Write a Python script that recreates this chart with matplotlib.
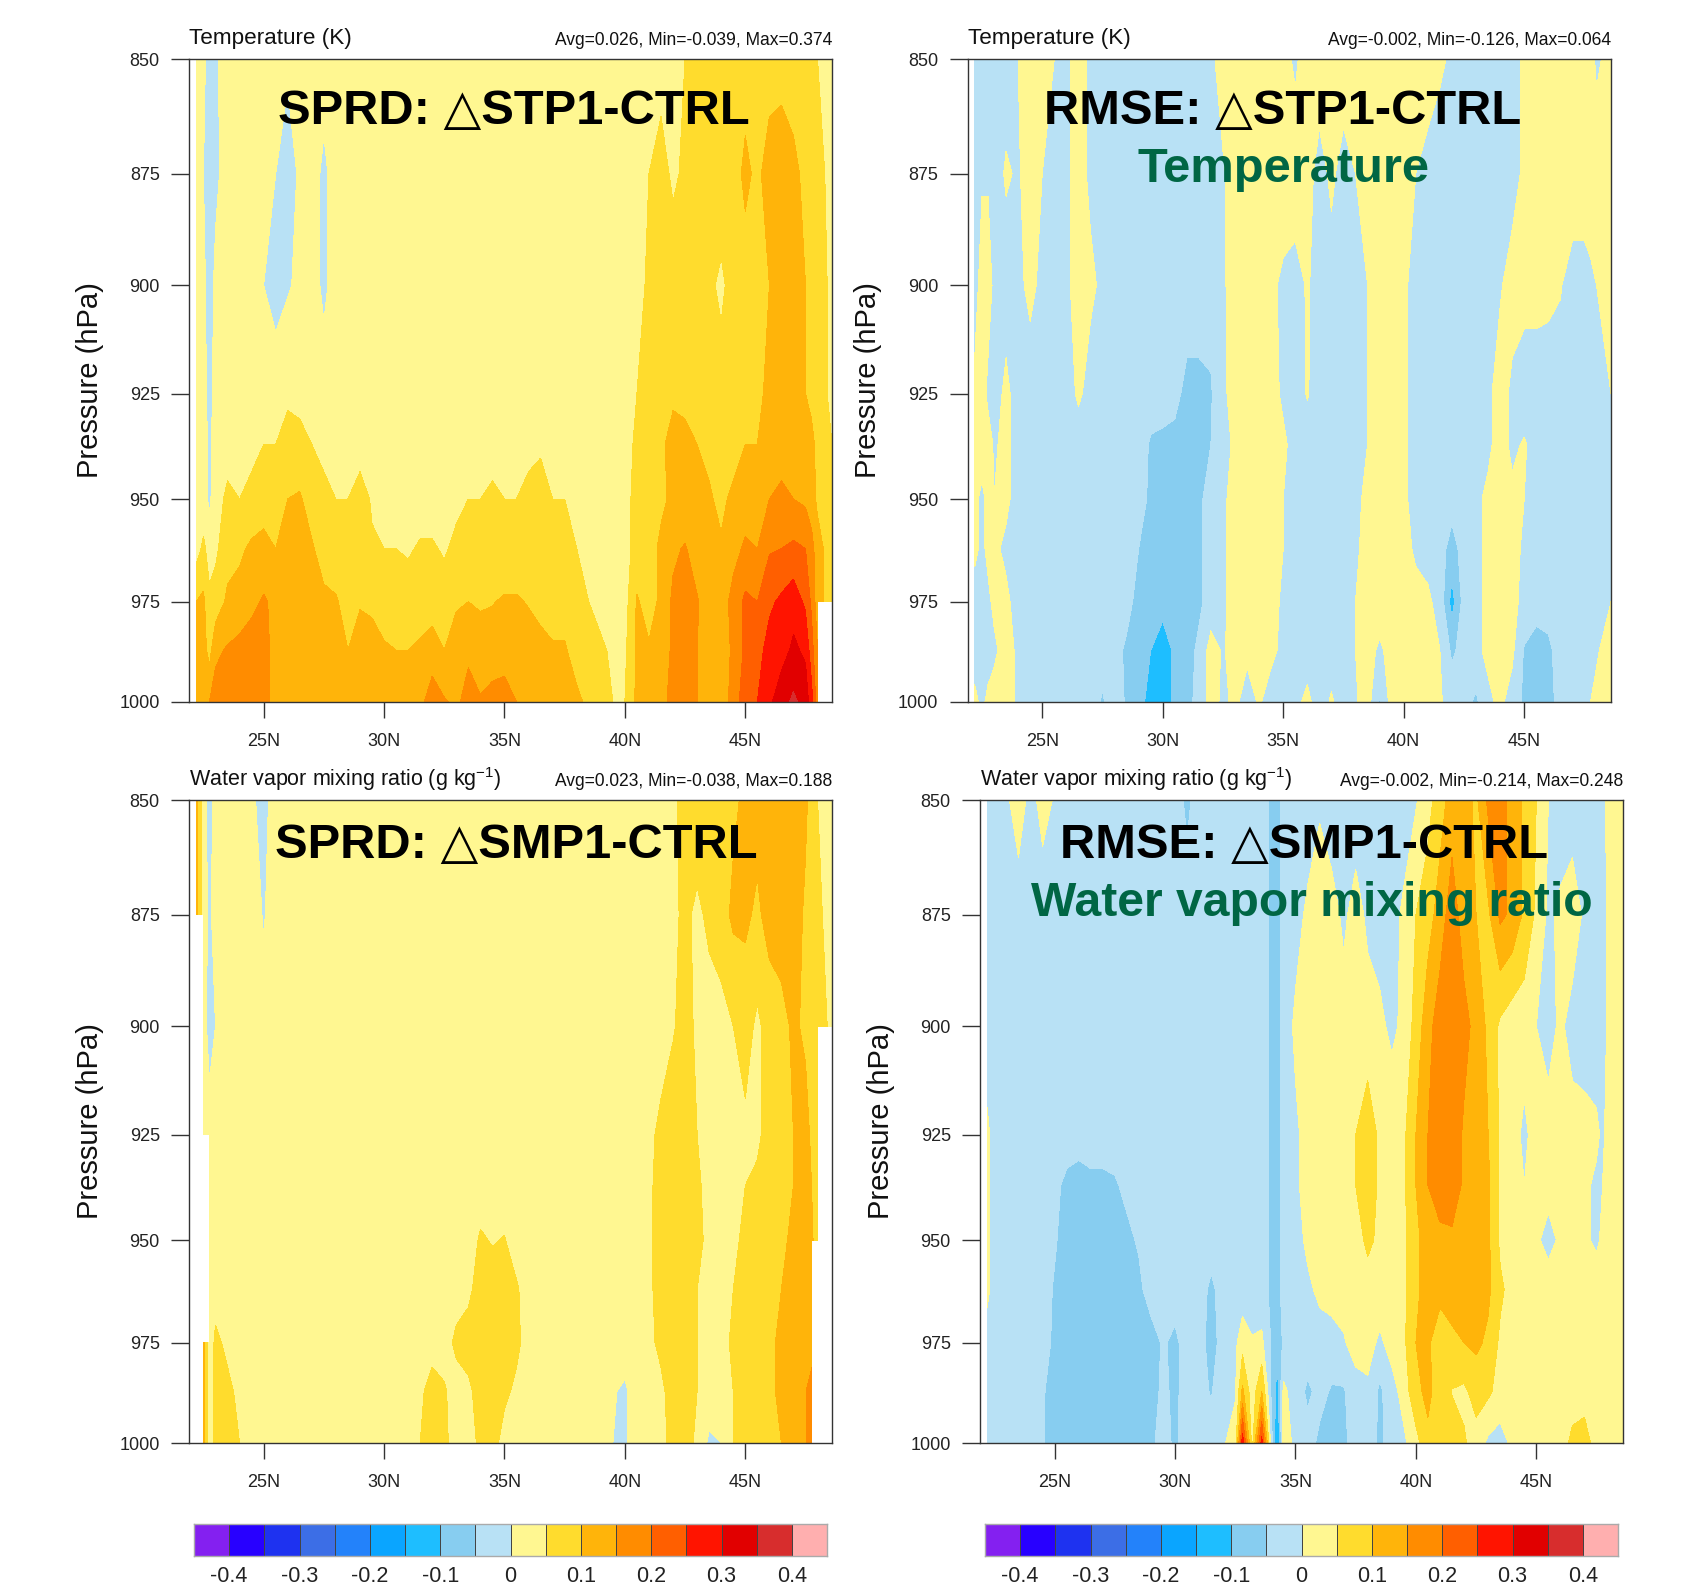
import numpy as np
import matplotlib
matplotlib.use('Agg')
import matplotlib.pyplot as plt
from matplotlib.colors import ListedColormap

plt.rcParams['font.family'] = ['Liberation Sans', 'DejaVu Sans']
plt.rcParams['mathtext.default'] = 'regular'

nan = float('nan')
W, H = 1691, 1585

# 등압면 (hPa), 위도
PRES = [850, 875, 900, 925, 937, 950, 962, 975, 987, 1000]
LATS = [22.2, 22.5, 22.75, 23, 23.5, 24, 24.5,
        25, 25.5, 26, 26.5, 27, 27.5, 28, 28.5, 29, 29.5,
        30, 30.5, 31, 31.5, 32, 32.5, 33, 33.5, 34, 34.5,
        35, 35.5, 36, 36.5, 37, 37.5, 38, 38.5, 39, 39.5,
        40, 40.5, 41, 41.5, 42, 42.5, 43, 43.5, 44, 44.5,
        45, 45.5, 46, 46.5, 47, 47.5, 47.75, 48, 48.6]
LATS_D = [22.2, 22.5, 22.75, 23, 23.5, 24, 24.5,
          25, 25.5, 26, 26.5, 27, 27.5, 28, 28.5, 29, 29.5,
          30, 30.5, 31, 31.5, 32, 32.5, 32.8, 33.2, 33.6, 34, 34.25, 34.5,
          35, 35.5, 36, 36.5, 37, 37.5, 38, 38.5, 39, 39.5,
          40, 40.5, 41, 41.5, 42, 42.5, 43, 43.5, 44, 44.5,
          45, 45.5, 46, 46.5, 47, 47.5, 47.75, 48, 48.6]

# 값은 0.01 단위
SPRD_T = [
 [2,1,-2,-1,3,3,3, 3,3,1,3,3,2,3,3,3,3, 3,3,3,3,3,3,3,3,3,3, 3,3,3,3,3,3,3,3,3,3, 3,3,3,3,4,5,7,7,8,8, 8,8,8,8,8,7,6,5,3],
 [2,0,-2,-1,2,3,3, 3,0,-3,1,2,-1,2,3,3,3, 3,3,3,3,3,3,3,3,3,3, 3,3,3,3,3,3,3,3,3,3, 3,4,5,7,4,6,7,7,8,8, 11,9,12,13,11,9,8,7,3],
 [1,1,-2,1,3,3,3, 0,-3,-0.5,1,2,-1,2,3,3,3, 3,3,3,3,3,3,3,3,3,3, 3,3,3,3,3,3,3,3,3,3, 3,3,6,8,8,8,8,6,4,7, 8,9,10,12,12,10,9,7,4],
 [1,1,-1,1,3,3,3, 3,4,4,3,3,2,3,3,3,3, 3,3,3,3,3,3,3,3,3,3, 3,3,3,3,3,3,3,3,3,3, 3,5,7,8,9,9,9,8,7,7, 8,9,11,13,13,10,9,7,4],
 [2,2,-1,2,3,3,4, 5,5,7,7,5,4,4,3,3,3, 3,3,3,3,3,3,3,3,3,3, 3,3,4,4,3,3,3,3,3,3, 3,6,7,9,12,11,10,9,8,8, 10,10,12,13,14,13,11,9,5],
 [2,2,-1,3,6,5,6, 7,7,10,10.5,8,6,5,5,7,4.5, 4,4,3,3,3,3,4,5,5,6, 5,5,6,8,5,5,3.5,3,3,3, 3,7,8,9,11,11,11,10.5,9,11, 12,13,15,16,15,14,12,9,6],
 [3,6,3,4,8,9,11, 12,10,12,12,10.5,8,7,5.5,6,5.5, 5,5,4.5,5.5,5.5,4.5,6,7,7,7, 7,7,7,8,7,7,5,4,3.5,3, 3,7,8,11,14,15.5,12,11.5,10.5,13, 16,15,19.5,20,21,20,17,12,7],
 [10,11,6,7,11,12,14, 15.5,14,14,14,12,11,10.5,8,9.8,9.5, 8,8,7,7,7,7,9.5,10,9.5,9.8, 10.5,10.5,9.7,8,8,8,7,5,4,3, 3,10.5,8,11,16,17,15.5,12,12,17, 21,20,24,26,28,24,19,12,7],
 [11,12,8,14,15.5,16.5,17, 18,12,12,12,11.5,11,10.8,10,11,11, 10.5,10,10,11,13,10,12,14,12,12, 13,13,12,12,10.5,10.5,8,7,5.5,4.5, 4,11,10.5,12,16,17,15,11,12,16, 21,23,27,28,31,29,22,15,nan],
 [11,12,15,17,18,18,18, 18,12,12,12,12,12,12,11,11,11, 12,12,12,14,17,15.5,14,17,15.5,17, 17,15,12,12,11,11,11,9,7,5, 5,11,12,13,17,17,15,12,12,17, 23,25,29,33,36,33,27,17,nan],
]

RMSE_T = [
 [-3,-3,-3,-3,-2,0,2, 3,0,-1,2,-1,-3,-3,-3,-3,-3, -3,-3,-3,-3,-1,2,3,3,3,2, 2,-1,3,3,3,3,3,3,3,3, 3,3,3,1,-1,-3,-3,-3,-3,-2, 1,3,3,3,3,3,2,-1,2],
 [-3,-0.5,-0.5,-2,0.5,-0.5,2, 0,-2,-1,2,-1,-3,-3,-3,-3,-3, -3,-3,-3,-3,-3,-0.5,2,3,3,3, 3,3,2,-2,1,-2,0,3,3,3, 3,0,-2,-3,-3,-3,-3,-3,-3,-2, 1,3,3,3,3,3,3,3,3],
 [-2,2,2,-1,-2,-1,1, -1,-2,-1,2,1,-1,-3,-3,-3,-3, -3,-3,-3,-3,-3,-1,3,3,3,1, -1,-2,0.5,-2,-2,-2,-2,0,3,3, 1,-2,-3,-3,-3,-3,-3,-3,-0.5,2, 2,2,1.5,0.3,-2,-2,-1,0,2],
 [1,2,-1,-2,1,-2,-2, -3,-3,-3,1,-2,-3,-3,-3,-3,-3, -3,-4,-6,-6,-5.5,-1,2,3,3,2, -1,-2,0.3,-2,-2,-2,-2,0,3,3, 1,-2,-3,-3,-3,-3,-3,-1,2,-1, -3,-3,-3,-2,-2,-2,-2,-2,0],
 [1,2,2,-0.5,1,-2,-2, -3,-3,-3,-3,-3,-3,-3,-3,-3,-5.5, -6,-6,-7,-7,-5,-2,1,3,3,3, 1,-2,-2,-2,-2,-2,-2,0,3,3, 1,-2,-3,-3,-3,-3,-3,-1,2,-1, 0.5,-2,-2,-2,-2,-2,-2,-2,-1],
 [1,-1,1,0,1,-2,-2, -3,-3,-3,-3,-3,-3,-3,-3,-3,-6, -7,-7,-7,-6,-3,-1,2,3,3,2, 0,-2,-2,-2,-2,-2,-1,1,3,3, 1,-2,-3,-3,-3,-3,-1,1,2,1, 0,-3,-3,-3,-3,-3,-3,-3,-3],
 [1,-1,1,1,-1,-2,-2, -3,-3,-3,-3,-3,-3,-3,-3,-5,-7, -7,-7,-7,-6,-3,-1,2,3,3,2, 0,-2,-2,-2,-2,-2,-1,2,3,3, 2,-1,-2,-3,-7,-3,-1,1,2,1, -0.5,-3,-3,-3,-3,-3,-3,-3,-2],
 [-2,-2,-1,1,1,-2,-3, -3,-3,-3,-3,-3,-3,-3,-4,-6,-7, -8,-9,-7,-6,-3,-1,2,3,3,1, -0.5,-2,-2,-2,-2,-1,0,3,3,3, 3,2,1,-2,-12,-3,-1,1,2,1, -1,-3,-3,-3,-3,-3,-3,-2,0],
 [-2,-2,-2,-1,2,-1,-3, -3,-3,-3,-3,-3,-3,-4,-5.5,-7,-10, -13,-9,-7,-4,2,-0.5,2,1,3,1, -1,-2,-2,-2,-2,-2,0,2,-1,2, 3,3,2,0,-6,-3,-1,1,2,1, -5.5,-7,-6,-3,-2,-2,-1.5,-0.5,2],
 [1,-1,1,2,2,-1,-2, -3,-3,-3,-3,-3,-5.5,-3,-5.5,-8,-12, -13,-9,-7,-3,2,-1,1,-2,0.5,-2, -2,-1,1,-2,0.5,-2,-0.5,2,-5.5,2, 3,3,3,0.5,-2,-3,-6,-1,1,-2, -6,-7,-7,-3,-2,-1,0,1,3],
]

SPRD_Q = [
 [11,2,-2,2,3,3,1, -2,3,3,3,3,3,3,3,3,3, 3,3,3,3,3,3,3,3,3,3, 3,3,3,3,3,3,3,3,3,3, 3,3,3,3,4,7,8,8,8,9, 11,12,13,13,12,11,8,5,3],
 [11,2,-1,2,3,3,3, -0.5,3,3,3,3,3,3,3,3,3, 3,3,3,3,3,3,3,3,3,3, 3,3,3,3,3,3,3,3,3,3, 3,3,3,3,4,6,4,6,8,11, 11,9,12,13,13,9,8,6,3],
 [nan,2,-2,0,3,3,3, 2,3,3,3,3,3,3,3,3,3, 3,3,3,3,3,3,3,3,3,3, 3,3,3,3,3,3,3,3,3,3, 3,3,3,3,4.5,7,4,3,3,5, 7,4,7,8,11,9,8,7,4],
 [nan,2,2,3,3,3,3, 3,3,3,3,3,3,3,3,3,3, 3,3,3,3,3,3,3,3,3,3, 3,3,3,3,3,3,3,3,3,3, 3,3,4,6,8,8,5,3,3,3, 4,4,7,8,10,12,9,6,nan],
 [nan,nan,3,3,3,3,3, 3,3,3,3,3,3,3,3,3,3, 3,3,3,3,3,3,3,3,3,3, 3,3,3,3,3,3,3,3,3,3, 3,3,4,7,8,8,6,3,3,3, 5,6,7,8,10,12,10,7,nan],
 [nan,nan,3,3,3,3,3, 3,3,3,3,3,3,3,3,3,3, 3,3,3,3,3,3,3,3,5.5,4.7, 5.2,3,3,3,3,3,3,3,3,3, 3,3,4,7,8,8,6,4,3,4, 6,7,8,9,11,12,11,7,nan],
 [nan,nan,3,3,3,3,3, 3,3,3,3,3,3,3,3,3,3, 3,3,3,3,3,3,3,4,7,7, 7,5.5,3,3,3,3,3,3,3,3, 3,3,4,7,8,8,5,3,3,5, 7,8,9,10,12,13,13,nan,nan],
 [nan,12,2,6,4,3,3, 3,3,3,3,3,3,3,3,3,3, 3,3,3,3,3,3,6,7,8,8, 8,6,3,3,3,3,3,3,3,3, 3,3,4,6,8,8,5,3,4,5.5, 7,8,9,11,12,14,14,nan,nan],
 [nan,12,2,6,6,4,3, 3,3,3,3,3,3,3,3,3,3, 3,3,3,4,7,5.5,3,4,7,7, 6,4,3,3,3,3,3,3,3,0.5, -1,3,0,4,7,7,5,3,3,5, 7,8,9,11,13,15,16,nan,nan],
 [nan,12,2,7,7,5,3, 3,3,3,3,3,3,3,3,3,3, 3,3,3,5,7,6,3,3,6,7, 3,3,3,3,3,3,3,3,2,0, -1,3,0,3,7,7,4,-1,0,5, 7,8,9,10,13,15,17,nan,nan],
]

RMSE_Q = [
 [-2,-2,-2,-1,3,-2,2, -0.5,-3,-3,-3,-3,-3,-3,-3,-3,-3, -3,-6,-3,-3,-3,-3,-3,-3,-3,-6,-7,-3, -3,-3,-0.5,-3,-3,-3,-3,-3,-3,-3, -0.5,3,8,12,12,9,16,17,13,9, 5,0,-3,-3,-3,-3,-1,1,3],
 [-3,-3,-3,-3,-3,-3,-3, -3,-3,-3,-3,-3,-3,-3,-3,-3,-3, -3,-3,-3,-3,-3,-3,-3,-3,-3,-6,-7,-3, -2,1,2,2,-1,2,-1,-2,-2,1, 5,8,12,18,12,10,9,16,14,9, 4,-1,1,3,-1,-3,-2,1,3],
 [-3,-3,-3,-3,-3,-3,-3, -3,-3,-3,-3,-3,-3,-3,-3,-3,-3, -3,-3,-3,-3,-3,-3,-3,-3,-3,-6,-7,-3, 1,1,2,2,2,2,2,1,-1,1, 7,13,18,19,17,13,9,4,2,2, 0,-2,1,-2,-3,-3,-2,1,3],
 [1,-2,-3,-3,-3,-3,-3, -3,-3,-3,-3,-3,-3,-3,-3,-3,-3, -3,-3,-3,-3,-3,-3,-3,-3,-3,-6,-7,-3, -1,2,2,2,3,5,8,4,3,4, 10,15,18,19,14,13,10,4,2,-1, 2,2,2,2,2,1,-1,2,3],
 [1,-2,-3,-3,-3,-3,-3, -4,-6,-7,-6,-6,-5.5,-4,-3,-3,-3, -3,-3,-3,-3,-3,-3,-3,-3,-3,-6,-7,-3, -1,2,2,2,2,5,8,4,3,4, 10,15,19,18,14,13,11,4,2,0, 2,2,2,2,1,-1,0,2,3],
 [1,-2,-3,-3,-3,-3,-3, -4.5,-7,-8,-8,-8,-7,-6,-4.5,-3,-3, -3,-3,-3,-3,-3,-3,-3,-3,-3,-6,-7,-3, -2,1,2,2,3,3,6,4,3,4, 9,12,13,14,13,12,11,4,2,0, 1,-2,1,2,1,-1,1,2,3],
 [1,-2,-3,-3,-3,-3,-3, -5.5,-8,-8,-8,-8,-8,-8,-6,-3,-3, -3,-3,-3,-6,-3,-3,-3,-3,-3,-6,-7,-3, -2,-1,1,2,2,2,3,3,3,4, 9,12,11,12,11,12,11,6,3,3, 3,3,3,3,3,3,3,3,3],
 [-2,-3,-3,-3,-4,-4,-4, -5.5,-8,-8,-8,-8,-8,-8,-8,-7,-4.5, -6,-3,-3,-7,-3,-1,3,0.5,1,-5.5,-9,-4, -1,-2,-2,-2,-0.5,2,2,-1,2,4, 10,10.5,8,9,10,11,9,4,2,2, 2,2,2,2,2,2,2,2,3],
 [-3,-3,-3,-3,-4,-4,-4.5, -7,-8,-8,-8,-8,-8,-8,-8,-7,-4, -6,-3,-3,-5.5,-1,-0.5,11,2,10,-6,-12,1, -2,-6,-3.5,-5.5,-5.5,-2,-1,-6,-2,2, 9,11,8,4.8,4,7,6,3,1,2, 3,3,3,3,3,3,3,3,3],
 [-3,-3,-3,-3,-4,-4,-4.5, -8,-8,-8,-8,-8,-8,-8,-8,-6,-3, -6,-2,-2,-2,-0.5,2,28,3,27,-3,-16,2, -1,-3,-6,-7,-6,-3,-2,-6,-3,-1, 3,9,8,7,5.5,3,-1,-2,1,2, 3,3,3,6,7,3,3,3,3],
]

LEVELS = [-0.4, -0.35, -0.3, -0.25, -0.2, -0.15, -0.1, -0.05, 0,
          0.05, 0.1, 0.15, 0.2, 0.25, 0.3, 0.35, 0.4]
COLORS = ['#8420F0', '#2800FF', '#1E32F0', '#3C6EE6', '#2382FA', '#0AA5FF',
          '#1EBEFF', '#87CDF0', '#B8E1F5', '#FFF791', '#FFDC2D', '#FFB40A',
          '#FF8C00', '#FF5F00', '#FF1400', '#E10000', '#D72D2D', '#FFAFAF']
CB_LABELS = ['-0.4', '-0.3', '-0.2', '-0.1', '0', '0.1', '0.2', '0.3', '0.4']
P_TICKS = [850, 875, 900, 925, 950, 975, 1000]
LAT_TICKS = [25, 30, 35, 40, 45]
LAT_LABELS = ['25N', '30N', '35N', '40N', '45N']

T_TITLE = 'Temperature (K)'
Q_TITLE = 'Water vapor mixing ratio (g kg$^{-1}$)'
DARK = '#333333'


def box(l, t, r, b):
    return [l / W, 1 - b / H, (r - l) / W, (b - t) / H]


def put(x, y, s, **kw):
    kw.setdefault('va', 'center')
    fig.text(x / W, 1 - y / H, s, **kw)


fig = plt.figure(figsize=(W / 100, H / 100), dpi=100)

# (자료, 위도, 축 상자, 제목, 제목 크기, 통계, ylabel x)
panels = [
    (SPRD_T, LATS, (189, 59, 832, 702), T_TITLE, 16.2, 'Avg=0.026, Min=-0.039, Max=0.374', 90),
    (RMSE_T, LATS, (967.5, 59, 1611, 702), T_TITLE, 16.2, 'Avg=-0.002, Min=-0.126, Max=0.064', 868),
    (SPRD_Q, LATS, (189, 800, 832, 1443), Q_TITLE, 15.5, 'Avg=0.023, Min=-0.038, Max=0.188', 90),
    (RMSE_Q, LATS_D, (980, 800, 1623, 1443), Q_TITLE, 15.5, 'Avg=-0.002, Min=-0.214, Max=0.248', 881),
]

for rows, lats, b, title, title_size, stats, ylab_x in panels:
    ax = fig.add_axes(box(*b))
    z = np.array(rows, dtype=float) / 100
    ax.contourf(lats, PRES, z, levels=LEVELS, colors=COLORS, extend='both', corner_mask=False)
    ax.set_yscale('log')
    ax.set_ylim(1000, 850)
    ax.set_xlim(21.9, 48.6)
    ax.set_yticks(P_TICKS)
    ax.set_yticklabels([str(p) for p in P_TICKS])
    ax.set_yticks([], minor=True)
    ax.set_xticks(LAT_TICKS)
    ax.set_xticklabels(LAT_LABELS)
    ax.tick_params(axis='y', length=13, width=1, pad=8, labelsize=13, color=DARK, labelcolor='#222222')
    ax.tick_params(axis='x', length=11.5, width=1, pad=10.5, labelsize=13, color=DARK, labelcolor='#222222')
    for sp in ax.spines.values():
        sp.set_color(DARK)
        sp.set_linewidth(1)
    ax.text(0, 1.032, title, transform=ax.transAxes, fontsize=title_size, va='center', color='#111111')
    ax.text(1, 1.028, stats, transform=ax.transAxes, fontsize=12.65, va='center', ha='right', color='#111111')
    put(ylab_x, (b[1] + b[3]) / 2, 'Pressure (hPa)', rotation=90, ha='center', fontsize=21, color='#111111')

# 큰 글자
big = dict(ha='center', fontsize=35.2, fontweight='bold')
put(514, 111, 'SPRD: △STP1-CTRL', color='black', **big)
put(1283, 111, 'RMSE: △STP1-CTRL', color='black', **big)
put(1283, 170, 'Temperature', color='#006644', **big)
put(516, 845, 'SPRD: △SMP1-CTRL', color='black', **big)
put(1304, 845, 'RMSE: △SMP1-CTRL', color='black', **big)
put(1312, 903, 'Water vapor mixing ratio', color='#006644', ha='center', fontsize=34.6, fontweight='bold')

# 컬러바
for l, r in [(194, 827), (985, 1618)]:
    cax = fig.add_axes(box(l, 1524, r, 1556))
    cax.pcolormesh(np.arange(len(COLORS) + 1), [0, 1], [np.arange(len(COLORS))],
                   cmap=ListedColormap(COLORS), vmin=-0.5, vmax=len(COLORS) - 0.5,
                   edgecolors='#444444', linewidth=0.6)
    cax.set_yticks([])
    cax.set_xticks(np.arange(1, len(COLORS), 2))
    cax.set_xticklabels(CB_LABELS)
    cax.tick_params(axis='x', length=0, pad=7, labelsize=15.5, labelcolor='#222222')
    for sp in cax.spines.values():
        sp.set_color('#aaaaaa')
        sp.set_linewidth(1)

fig.savefig('out.png', dpi=100)
